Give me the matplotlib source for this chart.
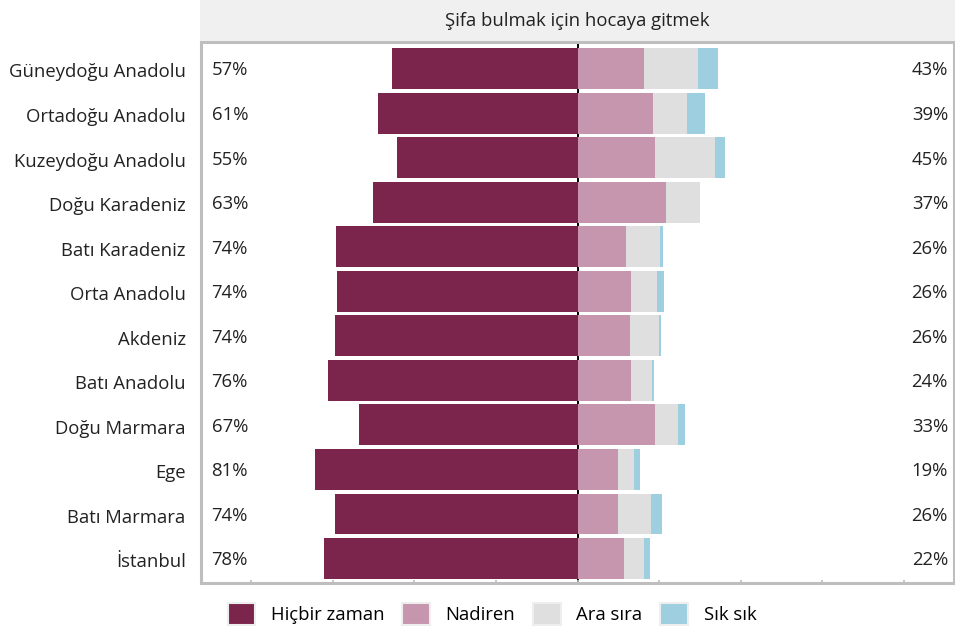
import matplotlib
matplotlib.use("Agg")
import matplotlib.pyplot as plt
from matplotlib.patches import Patch, Rectangle
import numpy as np

plt.rcParams["font.family"] = ["Open Sans", "DejaVu Sans"]

# Data (percent of respondents)
regions = ["Güneydoğu Anadolu", "Ortadoğu Anadolu", "Kuzeydoğu Anadolu", "Doğu Karadeniz",
           "Batı Karadeniz", "Orta Anadolu", "Akdeniz", "Batı Anadolu", "Doğu Marmara",
           "Ege", "Batı Marmara", "İstanbul"]
never = [57.0, 61.0, 55.2, 62.8, 73.9, 73.6, 74.4, 76.4, 67.1, 80.6, 74.4, 77.8]
rarely = [20.5, 23.0, 23.9, 27.0, 15.0, 16.5, 16.2, 16.5, 23.9, 12.3, 12.3, 14.1]
sometimes = [16.5, 10.7, 18.1, 10.4, 10.4, 8.0, 8.9, 6.4, 7.0, 4.9, 10.1, 6.4]
often = [6.1, 5.5, 3.1, 0.0, 0.9, 2.1, 0.6, 0.6, 2.1, 2.1, 3.4, 1.8]

series_names = ["Hiçbir zaman", "Nadiren", "Ara sıra", "Sık sık"]
colors = ["#7b254c", "#c695ae", "#dfdfdf", "#9dcfe0"]
title = "Şifa bulmak için hocaya gitmek"

border = "#bebebe"
fs = 13.3

fig = plt.figure(figsize=(9.55, 6.33), dpi=100)
ax = fig.add_axes([201 / 955, 1 - 583 / 633, 753 / 955, 541 / 633])

y = np.arange(len(regions))
never_a = np.array(never)
r = np.array(rarely)
s = np.array(sometimes)
o = np.array(often)

ax.axvline(0, color="black", lw=1.4, zorder=1)
ax.barh(y, -never_a, height=0.92, color=colors[0], zorder=2)
ax.barh(y, r, height=0.92, color=colors[1], zorder=2)
ax.barh(y, s, left=r, height=0.92, color=colors[2], zorder=2)
ax.barh(y, o, left=r + s, height=0.92, color=colors[3], zorder=2)

# percentage labels
for i in range(len(regions)):
    left_val = int(round(never[i]))
    ax.text(0.014, y[i] + 0.04, f"{left_val}%", transform=ax.get_yaxis_transform(),
            ha="left", va="center", fontsize=fs, color="#222222")
    ax.text(0.992, y[i] + 0.04, f"{100 - left_val}%", transform=ax.get_yaxis_transform(),
            ha="right", va="center", fontsize=fs, color="#222222")

ax.set_xlim(-115.4, 115.4)
ax.set_ylim(len(regions) - 0.45, -0.6)
ax.set_yticks(y + 0.04)
ax.set_yticklabels(regions, fontsize=fs, color="#222222")
ax.tick_params(axis="y", length=0, pad=11)
ax.set_xticks(np.arange(-100, 101, 25))
ax.set_xticklabels([])
ax.tick_params(axis="x", direction="in", length=2, color=border, width=1.2)
for sp in ax.spines.values():
    sp.set_color(border)
    sp.set_linewidth(2.2)

# title strip
fig.patches.append(Rectangle((200 / 955, 1 - 41 / 633), 755 / 955, 41 / 633,
                             transform=fig.transFigure, facecolor="#f0f0f0",
                             edgecolor="none", zorder=0))
fig.text(577.5 / 955, 1 - 21 / 633, title, ha="center", va="center",
         fontsize=fs, color="#222222")

handles = [Patch(facecolor=c, edgecolor="#eeeeee", linewidth=1.5) for c in colors]
fig.legend(handles, series_names, ncol=4, loc="center", frameon=False,
           bbox_to_anchor=(492 / 955, 1 - 614 / 633), fontsize=fs,
           handlelength=1.5, handleheight=1.5, handletextpad=0.85,
           columnspacing=0.95, borderaxespad=0)

fig.savefig("out.png", dpi=100)
